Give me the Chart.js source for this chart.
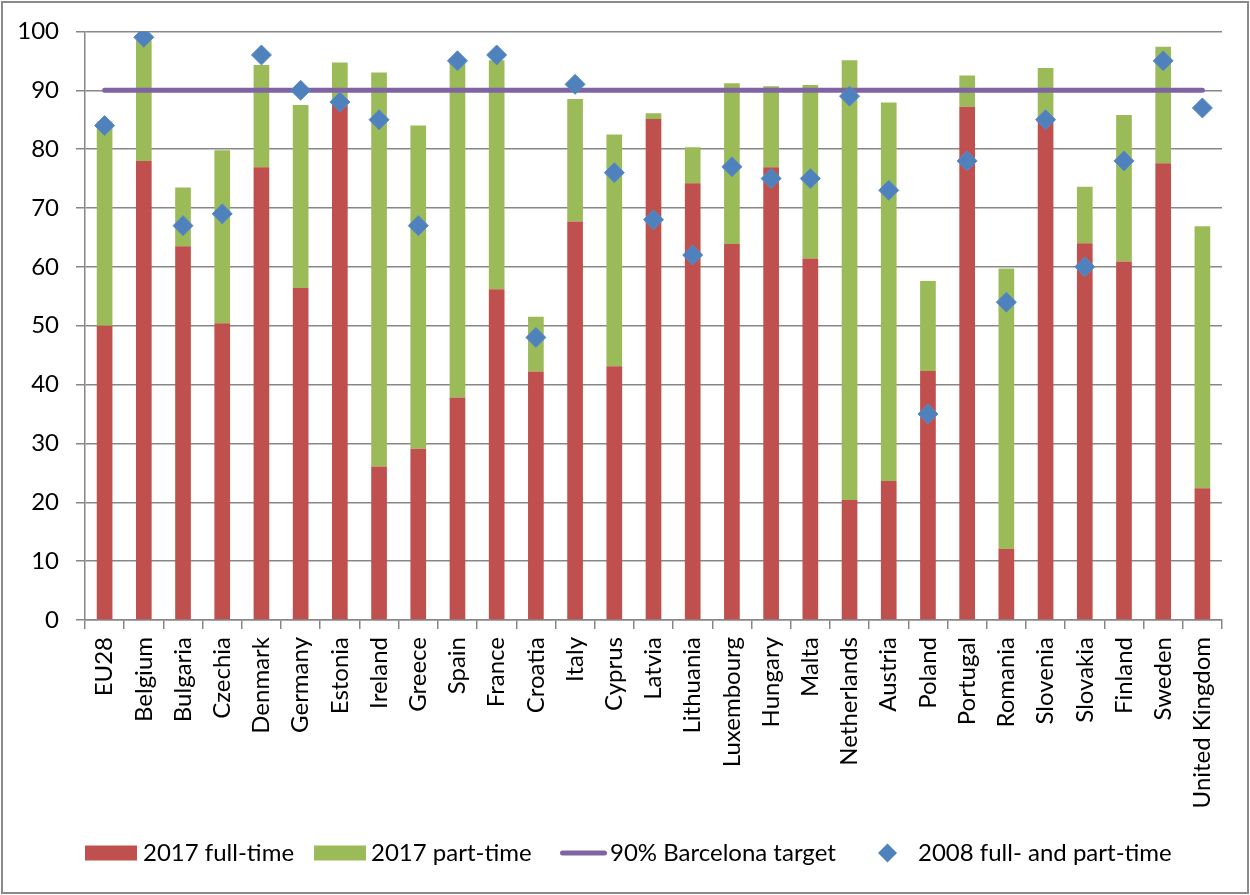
<!DOCTYPE html>
<html>
<head>
<meta charset="utf-8">
<title>Formal childcare participation, 2008 and 2017</title>
<script src="https://cdn.jsdelivr.net/npm/chart.js@4.4.1/dist/chart.umd.min.js"></script>
<style>
  html, body { margin: 0; padding: 0; background: #ffffff; }
  #wrap { width: 1250px; height: 895px; position: relative; }
</style>
</head>
<body>
<div id="wrap"><canvas id="chart" width="1250" height="895"></canvas></div>
<script>
// Countries (EU28 aggregate first)
const categories = [
  'EU28', 'Belgium', 'Bulgaria', 'Czechia', 'Denmark', 'Germany', 'Estonia',
  'Ireland', 'Greece', 'Spain', 'France', 'Croatia', 'Italy', 'Cyprus',
  'Latvia', 'Lithuania', 'Luxembourg', 'Hungary', 'Malta', 'Netherlands',
  'Austria', 'Poland', 'Portugal', 'Romania', 'Slovenia', 'Slovakia',
  'Finland', 'Sweden', 'United Kingdom'
];

// 2017, share of children in full-time formal childcare (%)
const fullTime2017 = [
  50.0, 78.0, 63.5, 50.4, 76.9, 56.4, 87.5,
  26.1, 29.1, 37.8, 56.2, 42.2, 67.7, 43.1,
  85.1, 74.2, 63.9, 76.9, 61.4, 20.4,
  23.6, 42.3, 87.2, 12.1, 85.5, 64.0,
  60.9, 77.6, 22.4
];

// 2017, share of children in part-time formal childcare (%)
const partTime2017 = [
  34.7, 20.5, 10.0, 29.4, 17.4, 31.1, 7.2,
  66.9, 54.9, 57.6, 38.9, 9.3, 20.8, 39.4,
  1.0, 6.1, 27.3, 13.8, 29.5, 74.7,
  64.3, 15.3, 5.3, 47.6, 8.3, 9.6,
  24.9, 19.8, 44.5
];

// 2008, full- and part-time combined (%)
const total2008 = [
  84, 99, 67, 69, 96, 90, 88,
  85, 67, 95, 96, 48, 91, 76,
  68, 62, 77, 75, 75, 89,
  73, 35, 78, 54, 85, 60,
  78, 95, 87
];

// Barcelona objective (%)
const barcelonaTarget = 90;

// Value axis
const yMin = 0;
const yMax = 100;
const yStep = 10;

const legendLabels = ['2017 full-time', '2017 part-time', '90% Barcelona target', '2008 full- and part-time'];

const RED = '#C0504D';
const GREEN = '#9BBB59';
const PURPLE = '#8064A2';
const BLUE = '#4F81BD';
const GRID = '#878787';
const FONT = 'Lato, "Liberation Sans", sans-serif';
const FONT_SIZE = 24;

// Outer frame around the whole chart
const framePlugin = {
  id: 'frame',
  afterDraw(chart) {
    const ctx = chart.ctx;
    ctx.save();
    ctx.strokeStyle = '#8a8a8a';
    ctx.lineWidth = 2;
    ctx.strokeRect(2, 2, chart.width - 4, chart.height - 4);
    ctx.restore();
  }
};

// Legend row under the category labels
const legendRowPlugin = {
  id: 'legendRow',
  afterDraw(chart) {
    const ctx = chart.ctx;
    const y = 853;
    ctx.save();
    ctx.font = FONT_SIZE + 'px ' + FONT;
    ctx.textBaseline = 'middle';
    ctx.textAlign = 'left';

    // full-time swatch
    ctx.fillStyle = RED;
    ctx.fillRect(85, y - 7.5, 52, 15);
    ctx.fillStyle = '#000000';
    ctx.fillText(legendLabels[0], 143, y);

    // part-time swatch
    ctx.fillStyle = GREEN;
    ctx.fillRect(314, y - 7.5, 52, 15);
    ctx.fillStyle = '#000000';
    ctx.fillText(legendLabels[1], 371, y);

    // target line sample (rounded bar)
    ctx.fillStyle = PURPLE;
    ctx.beginPath();
    ctx.roundRect(560, y - 2.5, 47, 5, 2.5);
    ctx.fill();
    ctx.fillStyle = '#000000';
    ctx.fillText(legendLabels[2], 610, y);

    // 2008 marker
    ctx.fillStyle = BLUE;
    ctx.beginPath();
    const cx = 887.5, r = 9.5;
    ctx.moveTo(cx, y - r);
    ctx.lineTo(cx + r, y);
    ctx.lineTo(cx, y + r);
    ctx.lineTo(cx - r, y);
    ctx.closePath();
    ctx.fill();
    ctx.fillStyle = '#000000';
    ctx.fillText(legendLabels[3], 918, y);
    ctx.restore();
  }
};

new Chart(document.getElementById('chart'), {
  type: 'bar',
  data: {
    labels: categories,
    datasets: [
      {
        type: 'line',
        label: legendLabels[3],
        data: total2008,
        showLine: false,
        pointStyle: 'rectRot',
        pointRadius: 10,
        pointBackgroundColor: BLUE,
        pointBorderColor: '#5a8ac3',
        pointBorderWidth: 1,
        stack: 'y2008',
        order: 0
      },
      {
        type: 'line',
        label: legendLabels[2],
        data: categories.map(() => barcelonaTarget),
        borderColor: PURPLE,
        borderWidth: 5,
        borderCapStyle: 'round',
        pointRadius: 0,
        fill: false,
        stack: 'target',
        order: 1
      },
      {
        label: legendLabels[0],
        data: fullTime2017,
        backgroundColor: RED,
        borderWidth: 0,
        categoryPercentage: 1,
        barPercentage: 0.4,
        stack: 'y2017',
        order: 2
      },
      {
        label: legendLabels[1],
        data: partTime2017,
        backgroundColor: GREEN,
        borderWidth: 0,
        categoryPercentage: 1,
        barPercentage: 0.4,
        stack: 'y2017',
        order: 3
      }
    ]
  },
  options: {
    responsive: false,
    animation: false,
    devicePixelRatio: 1,
    layout: { padding: { left: 0, top: 31, right: 28, bottom: 0 } },
    plugins: {
      legend: { display: false },
      tooltip: { enabled: false }
    },
    scales: {
      x: {
        stacked: true,
        offset: true,
        grid: {
          offset: true,
          drawOnChartArea: false,
          drawTicks: true,
          tickLength: 9,
          color: GRID,
          lineWidth: 1.5
        },
        border: { display: true, color: GRID, width: 1.5 },
        ticks: {
          autoSkip: false,
          minRotation: 90,
          maxRotation: 90,
          padding: 8,
          color: '#000000',
          font: { family: FONT, size: FONT_SIZE }
        },
        afterFit(scale) { scale.height = 275; }
      },
      y: {
        stacked: true,
        min: yMin,
        max: yMax,
        grid: {
          drawTicks: true,
          tickLength: 9,
          color: GRID,
          lineWidth: 1.5
        },
        border: { display: true, color: GRID, width: 1.5 },
        ticks: {
          stepSize: yStep,
          padding: 17,
          color: '#000000',
          font: { family: FONT, size: FONT_SIZE }
        },
        afterFit(scale) { scale.width = 85; }
      }
    }
  },
  plugins: [framePlugin, legendRowPlugin]
});
</script>
</body>
</html>
